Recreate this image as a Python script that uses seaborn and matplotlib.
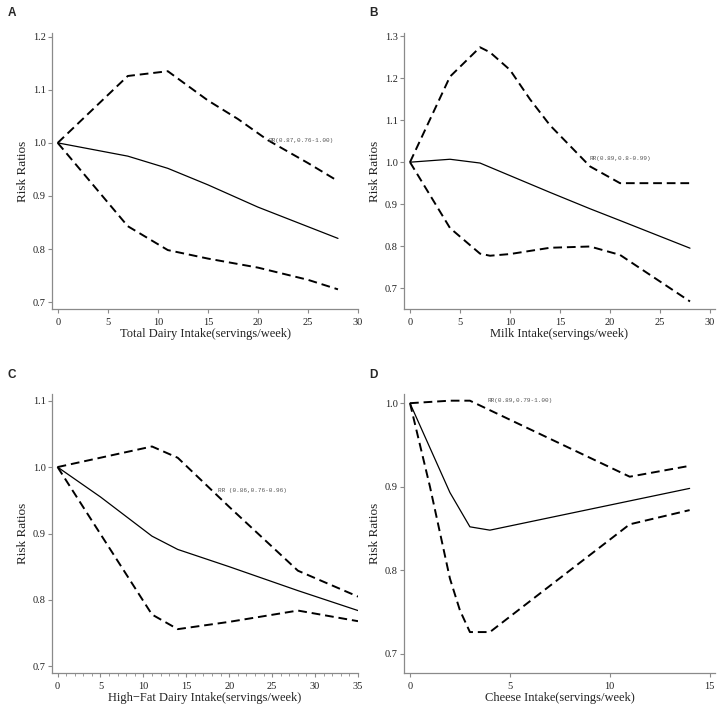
import matplotlib
matplotlib.use("Agg")
import matplotlib.pyplot as plt
import seaborn as sns
from matplotlib.ticker import MultipleLocator

# Panel A: total dairy
a_x = [0, 7, 11, 15, 20, 28]
a_rr = [1.0, 0.975, 0.952, 0.921, 0.879, 0.820]
a_up_x = [0, 7, 11, 15, 18, 21, 25, 28]
a_up = [1.0, 1.126, 1.135, 1.08, 1.045, 1.005, 0.962, 0.928]
a_lo_x = [0, 7, 11, 15, 20, 25, 28]
a_lo = [1.0, 0.843, 0.798, 0.782, 0.765, 0.742, 0.724]

# Panel B: milk
b_x = [0, 4, 7, 10, 14, 18, 21, 28]
b_rr = [1.0, 1.007, 0.998, 0.968, 0.928, 0.889, 0.861, 0.795]
b_up_x = [0, 4, 7, 8, 10, 12, 14, 18, 21, 28]
b_up = [1.0, 1.204, 1.274, 1.262, 1.22, 1.15, 1.088, 0.99, 0.95, 0.95]
b_lo_x = [0, 4, 7, 8, 10, 14, 18, 21, 28]
b_lo = [1.0, 0.843, 0.782, 0.777, 0.781, 0.796, 0.799, 0.779, 0.668]

# Panel C: high-fat dairy
c_x = [0, 5, 11, 14, 20, 28, 35]
c_rr = [1.0, 0.955, 0.896, 0.876, 0.850, 0.814, 0.784]
c_up_x = [0, 11, 14, 20, 28, 35]
c_up = [1.0, 1.031, 1.014, 0.94, 0.844, 0.805]
c_lo_x = [0, 11, 14, 20, 28, 35]
c_lo = [1.0, 0.778, 0.756, 0.767, 0.784, 0.768]

# Panel D: cheese
d_x = [0, 2, 3, 4, 11, 14]
d_rr = [1.0, 0.893, 0.852, 0.848, 0.883, 0.898]
d_up_x = [0, 2, 3, 11, 14]
d_up = [1.0, 1.003, 1.003, 0.912, 0.925]
d_lo_x = [0, 1, 2, 2.5, 3, 4, 11, 14]
d_lo = [1.0, 0.9, 0.79, 0.752, 0.726, 0.726, 0.855, 0.872]

panels = [
    dict(letter="A", x=a_x, rr=a_rr, ux=a_up_x, up=a_up, lx=a_lo_x, lo=a_lo,
         xlabel="Total Dairy Intake(servings/week)", xlim=(-0.57, 30), ylim=(0.687, 1.207),
         xticks=[0, 5, 10, 15, 20, 25, 30], yticks=[0.7, 0.8, 0.9, 1.0, 1.1, 1.2],
         note="RR(0.87,0.76-1.00)", note_xy=(21.1, 1.005)),
    dict(letter="B", x=b_x, rr=b_rr, ux=b_up_x, up=b_up, lx=b_lo_x, lo=b_lo,
         xlabel="Milk Intake(servings/week)", xlim=(-0.6, 30.5), ylim=(0.65, 1.308),
         xticks=[0, 5, 10, 15, 20, 25, 30], yticks=[0.7, 0.8, 0.9, 1.0, 1.1, 1.2, 1.3],
         note="RR(0.89,0.8-0.99)", note_xy=(17.9, 1.008)),
    dict(letter="C", x=c_x, rr=c_rr, ux=c_up_x, up=c_up, lx=c_lo_x, lo=c_lo,
         xlabel="High\u2212Fat Dairy Intake(servings/week)", xlim=(-0.65, 35), ylim=(0.69, 1.11),
         xticks=[0, 5, 10, 15, 20, 25, 30, 35], yticks=[0.7, 0.8, 0.9, 1.0, 1.1],
         note="RR (0.86,0.76-0.96)", note_xy=(18.7, 0.964)),
    dict(letter="D", x=d_x, rr=d_rr, ux=d_up_x, up=d_up, lx=d_lo_x, lo=d_lo,
         xlabel="Cheese Intake(servings/week)", xlim=(-0.3, 15.27), ylim=(0.677, 1.011),
         xticks=[0, 5, 10, 15], yticks=[0.7, 0.8, 0.9, 1.0],
         note="RR(0.89,0.79-1.00)", note_xy=(3.86, 1.003)),
]

sns.set_style("ticks")
plt.rcParams["font.family"] = ["Liberation Serif", "DejaVu Serif"]

fig = plt.figure(figsize=(7.22, 7.13), dpi=100)
W, H = 722, 713
# axes boxes in pixels: left, top, right, bottom
boxes = [(52, 33, 358, 309), (404, 33, 715, 309),
         (52, 394, 358, 673), (404, 394, 715, 673)]
letter_pos = [(8, 7), (369, 7), (8, 369), (369, 369)]

spine_col = "#8a8a8a"
for p, (l, t, r, b), (lx, ly) in zip(panels, boxes, letter_pos):
    ax = fig.add_axes([l / W, 1 - b / H, (r - l) / W, (b - t) / H])
    sns.lineplot(x=p["x"], y=p["rr"], ax=ax, color="black", linewidth=0.9)
    sns.lineplot(x=p["ux"], y=p["up"], ax=ax, color="black", linewidth=1.4,
                 linestyle=(0, (4.5, 2.5)))
    sns.lineplot(x=p["lx"], y=p["lo"], ax=ax, color="black", linewidth=1.4,
                 linestyle=(0, (4.5, 2.5)))
    ax.set_xlim(*p["xlim"])
    ax.set_ylim(*p["ylim"])
    ax.set_xticks(p["xticks"])
    ax.set_yticks(p["yticks"])
    ax.set_yticklabels([f"{v:.1f}" for v in p["yticks"]])
    if p["letter"] == "C":
        ax.xaxis.set_minor_locator(MultipleLocator(1))
    for s in ["top", "right"]:
        ax.spines[s].set_visible(False)
    for s in ["left", "bottom"]:
        ax.spines[s].set_color(spine_col)
        ax.spines[s].set_linewidth(0.9)
    ax.tick_params(which="major", length=3, width=0.8, color=spine_col,
                   labelsize=7.5, labelcolor="#222222")
    ax.tick_params(axis="x", which="major", pad=3.5)
    ax.tick_params(axis="y", which="major", pad=1.5)
    ax.tick_params(which="minor", length=2, width=0.6, color=spine_col)
    ax.set_xlabel(p["xlabel"], fontsize=9, color="#222222", labelpad=1)
    ax.set_ylabel("Risk Ratios", fontsize=9.5, color="#222222", labelpad=2.5)
    ax.text(p["note_xy"][0], p["note_xy"][1], p["note"], fontsize=4.3,
            family="Liberation Mono", color="#555555", va="center", ha="left")
    fig.text(lx / W, 1 - ly / H, p["letter"], fontsize=8.5, fontweight="bold",
             family="Liberation Sans", va="top", ha="left")

fig.savefig("out.png", dpi=100)
